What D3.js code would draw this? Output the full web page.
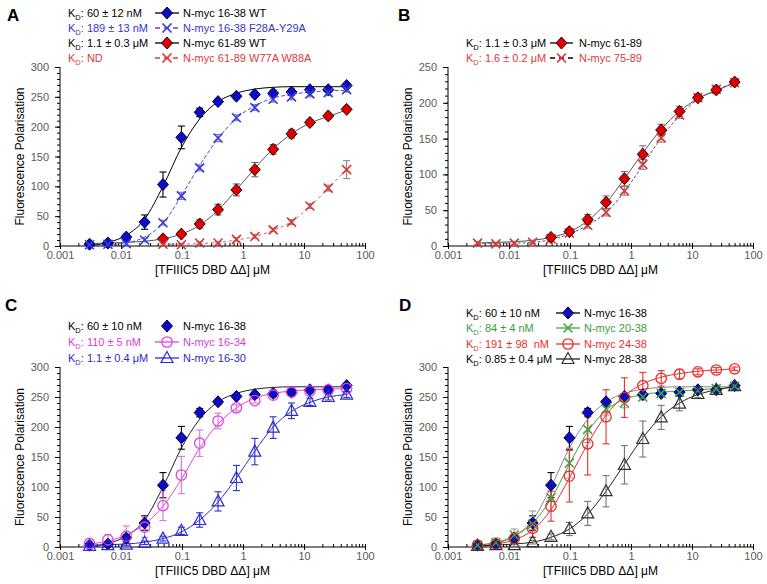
<!DOCTYPE html>
<html>
<head>
<meta charset="utf-8">
<script src="https://cdn.jsdelivr.net/npm/d3@7"></script>
<style>
  body { margin: 0; background: #fff; }
  text { font-family: "Liberation Sans", Arial, sans-serif; }
  .tick-label { font-size: 11px; fill: #595959; }
  .axis-title { font-size: 12px; fill: #000; }
  .legend { font-size: 11px; white-space: pre; }
  .letter { font-size: 17px; font-weight: bold; }
</style>
</head>
<body>
<script>
// concentrations of TFIIIC5 DBD (uM), two-fold dilution series
var conc = [0.00305, 0.0061, 0.0122, 0.0244, 0.0488, 0.0977, 0.195, 0.39, 0.78, 1.5625, 3.125, 6.25, 12.5, 25, 50];
var xTicks = [0.001, 0.01, 0.1, 1, 10, 100];

// N-myc 16-38 WT (A, C, D)
var nm1638 = [3, 5, 15, 40, 103, 182, 224, 242, 251, 254, 256, 258, 262, 262, 269];
var nm1638Err = [3, 3, 5, 12, 21, 19, 7, 4, 4, 4, 5, 5, 4, 4, 3];
var nm1638Fit = [0, 6, 18, 45, 100, 165, 213, 242, 256, 263, 266, 267, 267, 267, 267];

// N-myc 16-38 F28A-Y29A (A)
var f28a = [2, 3, 4, 10, 39, 84, 131, 181, 215, 232, 246, 250, 255, 257, 262];
var f28aErr = [2, 2, 3, 3, 4, 6, 5, 6, 5, 5, 5, 5, 5, 5, 4];
var f28aFit = [1, 2, 5, 15, 38, 84, 135, 180, 214, 235, 248, 254, 258, 260, 261];

// N-myc 61-89 WT (A, B)
var nm6189 = [null, null, null, null, 12, 20, 37, 61, 94, 128, 162, 188, 207, 218, 229];
var nm6189Err = [0, 0, 0, 0, 3, 4, 7, 9, 10, 12, 8, 7, 5, 5, 4];
var nm6189Fit = [4, 5, 6, 8, 12, 20, 35, 60, 94, 130, 163, 188, 206, 217, 228];

// N-myc 61-89 W77A W88A (A)
var w77a = [null, null, null, null, 3, 2, 5, 5, 11, 16, 27, 40, 67, 97, 128];
var w77aErr = [0, 0, 0, 0, 2, 2, 2, 2, 3, 3, 3, 4, 4, 5, 15];
var w77aFit = [null, null, null, null, 3, 3, 4, 6, 10, 16, 26, 41, 66, 97, 128];

// N-myc 75-89 (B)
var nm7589 = [4, 3, 4, 5, 10, 18, 29, 47, 77, 114, 151, 183, 207, 219, 228];
var nm7589Err = [2, 2, 2, 2, 3, 3, 4, 5, 6, 7, 6, 5, 5, 4, 4];
var nm7589Fit = [4, 4, 4, 5, 9, 17, 29, 47, 76, 113, 151, 182, 205, 218, 228];

// N-myc 16-34 (C)
var nm1634 = [6, 12, 18, 33, 69, 120, 173, 210, 232, 244, 253, 258, 260, 262, 264];
var nm1634Err = [4, 9, 17, 17, 25, 31, 22, 13, 5, 4, 4, 4, 4, 4, 4];
var nm1634Fit = [5, 10, 20, 38, 68, 113, 165, 205, 232, 248, 256, 260, 262, 263, 264];

// N-myc 16-30 (C)
var nm1630 = [2, 3, 4, 7, 14, 27, 45, 76, 115, 159, 199, 227, 242, 250, 254];
var nm1630Err = [2, 2, 2, 3, 4, 6, 12, 16, 21, 22, 18, 13, 6, 5, 5];
var nm1630Fit = [3, 4, 5, 8, 14, 25, 45, 75, 115, 160, 200, 226, 241, 250, 254];

// N-myc 20-38 (D)
var nm2038 = [3, 7, 20, 38, 82, 140, 196, 230, 240, 250, 256, 258, 261, 264, 268];
var nm2038Err = [4, 8, 10, 22, 22, 25, 22, 10, 8, 5, 5, 5, 4, 4, 4];
var nm2038Fit = [3, 8, 18, 40, 80, 138, 192, 228, 246, 254, 258, 260, 262, 264, 266];

// N-myc 24-38 (D)
var nm2438 = [3, 5, 14, 31, 68, 118, 172, 217, 249, 269, 281, 288, 292, 295, 297];
var nm2438Err = [3, 4, 8, 15, 25, 43, 52, 45, 33, 22, 13, 8, 5, 4, 3];
var nm2438Fit = [2, 5, 12, 28, 62, 115, 172, 220, 252, 272, 283, 289, 293, 295, 297];

// N-myc 28-38 (D)
var nm2838 = [2, 3, 3, 8, 17, 30, 56, 93, 137, 180, 216, 239, 255, 262, 268];
var nm2838Err = [2, 2, 2, 3, 5, 11, 20, 26, 32, 30, 20, 12, 6, 4, 3];
var nm2838Fit = [2, 3, 5, 8, 16, 30, 55, 93, 138, 182, 217, 240, 254, 262, 267];

var svg = d3.select("body").append("svg")
    .attr("width", 767)
    .attr("height", 584);

var BLUE_D = {sym: "diamond", fill: "#0c0cc4", stroke: "#00004a"};
var RED_D = {sym: "diamond", fill: "#e00000", stroke: "#2a0000"};

var panels = [
  {letter: "A", lx: 7, ly: 21, left: 60, right: 365, top: 67, bottom: 246, yMax: 300, ytx: 20,
   legend: {kx: 68, s1: 155, s2: 179, tx: 183, rows: [13, 28, 43, 58]},
   series: [
     {v: nm1638, e: nm1638Err, f: nm1638Fit, m: BLUE_D, line: "#000", eColor: "#000", kd: "60 ± 12 nM", kdColor: "#000", name: "N-myc 16-38 WT", nameColor: "#000"},
     {v: f28a, e: f28aErr, f: f28aFit, m: {sym: "x", stroke: "#3c3cd2"}, line: "#4a4ad0", dash: "4,2", eColor: "#7a7ac8", kd: "189 ± 13 nM", kdColor: "#3535c8", name: "N-myc 16-38 F28A-Y29A", nameColor: "#3535c8"},
     {v: nm6189, e: nm6189Err, f: nm6189Fit, m: RED_D, line: "#555", eColor: "#666", kd: "1.1 ± 0.3 μM", kdColor: "#000", name: "N-myc 61-89 WT", nameColor: "#000", legLine: "#000"},
     {v: w77a, e: w77aErr, f: w77aFit, m: {sym: "x", stroke: "#d93636"}, line: "#e06060", dash: "3,3", eColor: "#888", kd: "ND", kdColor: "#e03a3a", name: "N-myc 61-89 W77A W88A", nameColor: "#e03a3a", legLine: "#e03a3a"}
   ]},
  {letter: "B", lx: 398, ly: 21, left: 448, right: 753, top: 67, bottom: 246, yMax: 250, ytx: 408,
   legend: {kx: 466, s1: 550, s2: 573, tx: 579, rows: [43, 58]},
   series: [
     {v: nm7589, e: nm7589Err, f: nm7589Fit, m: {sym: "x", stroke: "#d93636"}, line: "#555", dash: "3,2", eColor: "#888", kd: "1.6 ± 0.2 μM", kdColor: "#e03a3a", name: "N-myc 75-89", nameColor: "#e03a3a", legLine: "#000", order: 1},
     {v: nm6189, e: nm6189Err, f: nm6189Fit, m: RED_D, line: "#555", eColor: "#777", kd: "1.1 ± 0.3 μM", kdColor: "#000", name: "N-myc 61-89", nameColor: "#000", legLine: "#000", order: 0}
   ]},
  {letter: "C", lx: 5, ly: 311, left: 60, right: 365, top: 367, bottom: 547, yMax: 300, ytx: 20,
   legend: {kx: 68, s1: 155, s2: 179, tx: 183, rows: [326, 342, 358]},
   series: [
     {v: nm1638, e: nm1638Err, f: nm1638Fit, m: BLUE_D, line: "#222", eColor: "#000", kd: "60 ± 10 nM", kdColor: "#000", name: "N-myc 16-38", nameColor: "#000", noLegLine: true},
     {v: nm1634, e: nm1634Err, f: nm1634Fit, m: {sym: "circle", stroke: "#e042e0"}, line: "#e042e0", eColor: "#e070e0", kd: "110 ± 5 nM", kdColor: "#d640d0", name: "N-myc 16-34", nameColor: "#d640d0"},
     {v: nm1630, e: nm1630Err, f: nm1630Fit, m: {sym: "triangle", stroke: "#2c2cd4"}, line: "#2c2cd4", eColor: "#2c2cd4", kd: "1.1 ± 0.4 μM", kdColor: "#2c2cc4", name: "N-myc 16-30", nameColor: "#2c2cc4"}
   ]},
  {letter: "D", lx: 399, ly: 311, left: 448, right: 753, top: 367, bottom: 547, yMax: 300, ytx: 408,
   legend: {kx: 466, s1: 556, s2: 580, tx: 584, rows: [313, 328, 344, 359]},
   series: [
     {v: nm1638, e: nm1638Err, f: nm1638Fit, m: BLUE_D, line: "#888", eColor: "#000", kd: "60 ± 10 nM", kdColor: "#000", name: "N-myc 16-38", nameColor: "#000", legLine: "#000"},
     {v: nm2038, e: nm2038Err, f: nm2038Fit, m: {sym: "x", stroke: "#3da53d"}, line: "#3da53d", eColor: "#999", kd: "84 ± 4 nM", kdColor: "#3c9c3c", name: "N-myc 20-38", nameColor: "#3c9c3c"},
     {v: nm2438, e: nm2438Err, f: nm2438Fit, m: {sym: "circle", stroke: "#e8302c"}, line: "#e8302c", eColor: "#e8302c", kd: "191 ± 98  nM", kdColor: "#e8302c", name: "N-myc 24-38", nameColor: "#e8302c"},
     {v: nm2838, e: nm2838Err, f: nm2838Fit, m: {sym: "triangle", stroke: "#333"}, line: "#222", eColor: "#777", kd: "0.85 ± 0.4 μM", kdColor: "#000", name: "N-myc 28-38", nameColor: "#000"}
   ]}
];

function drawMarker(g, m, cx, cy) {
  if (m.sym == "diamond") {
    g.append("path")
      .attr("d", "M" + cx + "," + (cy - 6) + "L" + (cx + 5.5) + "," + cy + "L" + cx + "," + (cy + 6) + "L" + (cx - 5.5) + "," + cy + "Z")
      .attr("fill", m.fill).attr("stroke", m.stroke).attr("stroke-width", 1);
  } else if (m.sym == "x") {
    var r = 4.5;
    g.append("path")
      .attr("d", "M" + (cx - r) + "," + (cy - r) + "L" + (cx + r) + "," + (cy + r) + "M" + (cx + r) + "," + (cy - r) + "L" + (cx - r) + "," + (cy + r))
      .attr("stroke", m.stroke).attr("stroke-width", 1.6).attr("fill", "none");
  } else if (m.sym == "circle") {
    g.append("circle").attr("cx", cx).attr("cy", cy).attr("r", 5.2)
      .attr("fill", "none").attr("stroke", m.stroke).attr("stroke-width", 1.3);
  } else if (m.sym == "triangle") {
    g.append("path")
      .attr("d", "M" + cx + "," + (cy - 6.5) + "L" + (cx + 6) + "," + (cy + 4.5) + "L" + (cx - 6) + "," + (cy + 4.5) + "Z")
      .attr("fill", "none").attr("stroke", m.stroke).attr("stroke-width", 1.2);
  }
}

panels.forEach(function(p) {
  var x = d3.scaleLog().domain([0.001, 100]).range([p.left, p.right]);
  var y = d3.scaleLinear().domain([0, p.yMax]).range([p.bottom, p.top]);
  var g = svg.append("g");

  // y axis with minor ticks every 10
  var yAxis = d3.axisLeft(y).tickValues(d3.range(0, p.yMax + 1, 50)).tickSize(5).tickPadding(6);
  var ya = g.append("g").attr("transform", "translate(" + p.left + ",0)").call(yAxis);
  ya.selectAll(".tick text").attr("class", "tick-label").attr("font-size", null).attr("fill", null);
  ya.select(".domain").attr("d", "M0," + p.top + "V" + p.bottom);
  var yMinor = d3.axisLeft(y).tickValues(d3.range(0, p.yMax + 1, 10)).tickSize(3).tickFormat("");
  g.append("g").attr("transform", "translate(" + p.left + ",0)").call(yMinor).select(".domain").remove();

  // x axis: log scale, decades labelled
  var xAxis = d3.axisBottom(x).tickValues(xTicks).tickSize(3).tickPadding(2)
      .tickFormat(function(d) { return d3.format("~g")(d); });
  var xa = g.append("g").attr("transform", "translate(0," + p.bottom + ")").call(xAxis);
  xa.selectAll(".tick text").attr("class", "tick-label").attr("font-size", null).attr("fill", null);
  xa.selectAll(".tick line").attr("y1", -3);
  xa.select(".domain").attr("d", "M" + p.left + ",0H" + p.right);
  var minor = [];
  xTicks.slice(0, -1).forEach(function(t) { for (var k = 2; k < 10; k++) minor.push(t * k); });
  g.append("g").attr("transform", "translate(0," + p.bottom + ")")
    .call(d3.axisBottom(x).tickValues(minor).tickSize(-3).tickFormat(""))
    .select(".domain").remove();

  g.append("text").attr("class", "axis-title")
    .attr("x", (p.left + p.right) / 2).attr("y", p.bottom + 28)
    .attr("text-anchor", "middle").text("[TFIIIC5 DBD ΔΔ] μM");
  g.append("text").attr("class", "axis-title")
    .attr("transform", "translate(" + p.ytx + "," + ((p.top + p.bottom) / 2) + ") rotate(-90)")
    .attr("text-anchor", "middle").attr("dy", "0.35em").text("Fluorescence Polarisation");
  g.append("text").attr("class", "letter").attr("x", p.lx).attr("y", p.ly).text(p.letter);

  var line = d3.line()
    .defined(function(d) { return d[1] != null; })
    .x(function(d) { return x(d[0]); })
    .y(function(d) { return y(d[1]); })
    .curve(d3.curveMonotoneX);

  // fitted curves
  p.series.forEach(function(s) {
    g.append("path")
      .datum(conc.map(function(c, i) { return [c, s.f[i]]; }))
      .attr("d", line).attr("fill", "none")
      .attr("stroke", s.line).attr("stroke-width", 1)
      .attr("stroke-dasharray", s.dash || null);
  });

  // error bars + markers
  p.series.forEach(function(s) {
    var eg = g.append("g").attr("stroke", s.eColor).attr("stroke-width", 1.1);
    conc.forEach(function(c, i) {
      if (s.v[i] == null) return;
      var cx = x(c), y1 = y(s.v[i] + s.e[i]), y2 = y(Math.max(0, s.v[i] - s.e[i]));
      eg.append("line").attr("x1", cx).attr("x2", cx).attr("y1", y1).attr("y2", y2);
      eg.append("line").attr("x1", cx - 3.5).attr("x2", cx + 3.5).attr("y1", y1).attr("y2", y1);
      eg.append("line").attr("x1", cx - 3.5).attr("x2", cx + 3.5).attr("y1", y2).attr("y2", y2);
    });
  });
  p.series.forEach(function(s) {
    conc.forEach(function(c, i) {
      if (s.v[i] == null) return;
      drawMarker(g, s.m, x(c), y(s.v[i]));
    });
  });

  // legend
  var L = p.legend;
  p.series.forEach(function(s, i) {
    var row = s.order != null ? s.order : i;
    var ry = L.rows[row];
    var kt = g.append("text").attr("class", "legend").attr("x", L.kx).attr("y", ry + 4).attr("fill", s.kdColor);
    kt.append("tspan").text("K");
    kt.append("tspan").attr("font-size", "7.5px").attr("dy", 3).text("D");
    kt.append("tspan").attr("dy", -3).text(": " + s.kd);
    if (!s.noLegLine) {
      g.append("line").attr("x1", L.s1).attr("x2", L.s2).attr("y1", ry).attr("y2", ry)
        .attr("stroke", s.legLine || s.line).attr("stroke-width", 1.3)
        .attr("stroke-dasharray", s.dash ? "5,4" : null);
    }
    drawMarker(g, s.m, (L.s1 + L.s2) / 2, ry);
    g.append("text").attr("class", "legend").attr("x", L.tx).attr("y", ry + 4)
      .attr("fill", s.nameColor).text(s.name);
  });
});
</script>
</body>
</html>
